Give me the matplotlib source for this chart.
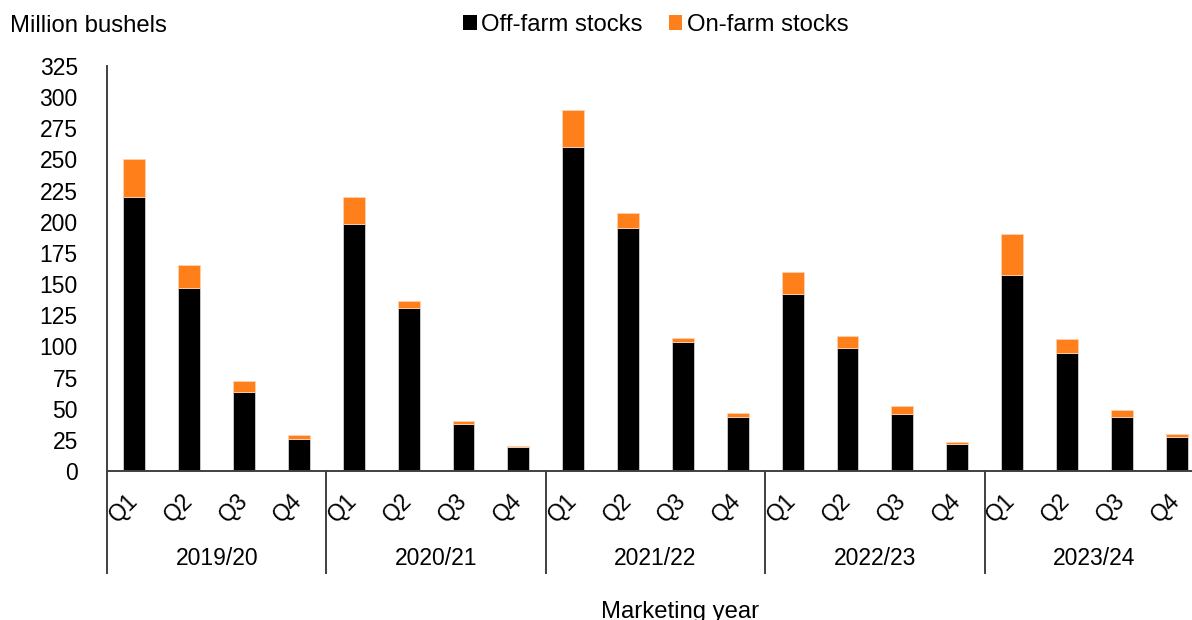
import numpy as np
import matplotlib
matplotlib.use('Agg')
import matplotlib.pyplot as plt
from matplotlib.patches import Patch
import matplotlib.transforms as mtransforms

plt.rcParams['font.family'] = ['Liberation Sans', 'DejaVu Sans']

# Quarterly stocks, million bushels
years = ['2019/20', '2020/21', '2021/22', '2022/23', '2023/24']
quarters = ['Q1', 'Q2', 'Q3', 'Q4']
off_farm = [220, 147, 63, 26,
            198.5, 131, 38, 19.3,
            260, 195, 103.5, 43.6,
            142, 98.7, 45.5, 21.7,
            157, 94.7, 43.3, 27.3]
on_farm = [30, 18, 9, 3,
           21.5, 5.4, 2, 0.5,
           30, 12, 3.5, 2.7,
           18, 9.6, 6.7, 1.6,
           33.5, 11, 5.9, 2.7]

off_color = '#000000'
on_color = '#FF7F1B'
axis_color = '#404040'
fs = 16.5
fs_label = 17.2

fig = plt.figure(figsize=(11.92, 6.2), dpi=100)
# axes runs a little past the right edge of the figure
ax = fig.add_axes([107 / 1192, 149 / 620, 1097 / 1192, 405 / 620])

x = np.arange(len(off_farm))
ax.bar(x, off_farm, width=0.4, color=off_color, edgecolor='#d0d0d0', linewidth=0.6)
ax.bar(x, on_farm, width=0.4, bottom=off_farm, color=on_color, edgecolor='#ffd0b0', linewidth=0.6)

ax.set_xlim(-0.5, len(off_farm) - 0.5)
ax.set_ylim(0, 325)
ax.set_yticks(np.arange(0, 326, 25))
ax.tick_params(axis='y', length=0, pad=21, labelsize=fs)
ax.set_xticks([])

for side in ['top', 'right']:
    ax.spines[side].set_visible(False)
for side in ['left', 'bottom']:
    ax.spines[side].set_color(axis_color)
    ax.spines[side].set_linewidth(1.4)

trans = mtransforms.blended_transform_factory(ax.transData, ax.transAxes)

# quarter labels under each bar
for i in x:
    ax.text(i - 0.2, -0.092, quarters[i % 4], rotation=45, ha='center', va='center',
            fontsize=fs, transform=trans)

# year group labels and separators
for g, yr in enumerate(years):
    ax.text(g * 4 + 1.5, -0.215, yr, ha='center', va='center', fontsize=fs, transform=trans)
    ax.plot([g * 4 - 0.5, g * 4 - 0.5], [0, -0.252], color=axis_color, lw=1.4,
            transform=trans, clip_on=False)
ax.plot([19.5, 19.5], [0, -0.252], color=axis_color, lw=1.4, transform=trans, clip_on=False)

fig.text(10 / 1192, 1 - 26 / 620, 'Million bushels', ha='left', va='center', fontsize=fs_label)
fig.text(680 / 1192, 1 - 612 / 620, 'Marketing year', ha='center', va='center', fontsize=fs_label)

handles = [Patch(facecolor=off_color), Patch(facecolor=on_color)]
fig.legend(handles, ['Off-farm stocks', 'On-farm stocks'], loc='center',
           bbox_to_anchor=(656 / 1192, 1 - 25 / 620), ncol=2, frameon=False,
           fontsize=fs_label, handlelength=0.55, handleheight=0.55, handletextpad=0.2,
           columnspacing=1.1, borderpad=0)

fig.savefig('out.png', dpi=100)
